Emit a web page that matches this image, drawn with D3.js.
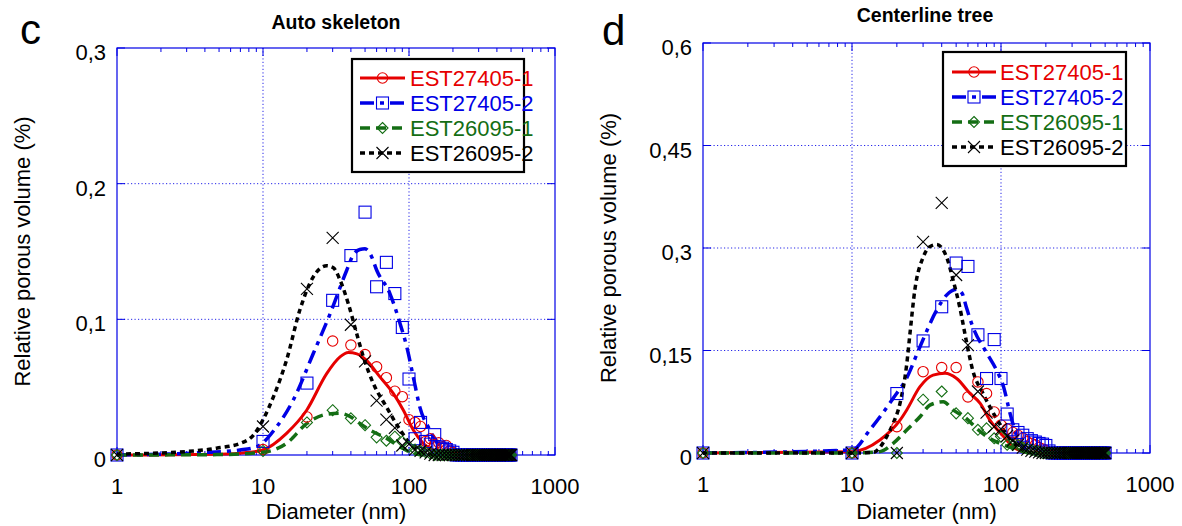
<!DOCTYPE html>
<html><head><meta charset="utf-8">
<script src="https://cdn.jsdelivr.net/npm/d3@7"></script>
<style>body{margin:0;background:#fff}svg{display:block}text{font-family:"Liberation Sans",Arial,sans-serif}</style>
</head><body><svg id="chart" width="1182" height="526"></svg>
<script>
// ---------- DATA ----------
const diameters = [1,10,20,30,40,50,60,70,80,90,
  100,110,120,130,140,150,160,170,180,190,
  200,210,220,230,240,250,260,270,280,290,
  300,310,320,330,340,350,360,370,380,390,
  400,410,420,430,440,450,460,470,480,490,500];
const seriesNames = ["EST27405-1","EST27405-2","EST26095-1","EST26095-2"];
const xTickLabels = ["1","10","100","1000"];
const yTicksC = [0,0.1,0.2,0.3];
const yTickLabelsC = ["0","0,1","0,2","0,3"];
const yTicksD = [0,0.15,0.3,0.45,0.6];
const yTickLabelsD = ["0","0,15","0,3","0,45","0,6"];
const panelTitles = ["Auto skeleton","Centerline tree"];
const panelLetters = ["c","d"];

// Panel c (Auto skeleton) measured points
const cEST27405_1 = [0,0.004,0.028,0.084,0.081,0.074,0.065,0.057,0.047,0.043,
  0.026,0.024,0.021,0.010,0.012,0.008,0.009,0.006,0.007,0.003,
  0.002,0,0,0,0,0,0,0,0,0, 0,0,0,0,0,0,0,0,0,0, 0,0,0,0,0,0,0,0,0,0,0];
const cEST27405_2 = [0,0.010,0.053,0.114,0.147,0.179,0.124,0.142,0.119,0.094,
  0.056,0.012,0.024,0.010,0.008,0.015,0.006,0.005,0.004,0.003,
  0.002,0,0,0,0,0,0,0,0,0, 0,0,0,0,0,0,0,0,0,0, 0,0,0,0,0,0,0,0,0,0,0];
const cEST26095_1 = [0,0.003,0.024,0.033,0.027,0.022,0.013,0.0105,0.0135,0.0098,
  0.006,0.004,0.003,0.002,0.001,0,0,0,0,0,
  0,0,0,0,0,0,0,0,0,0, 0,0,0,0,0,0,0,0,0,0, 0,0,0,0,0,0,0,0,0,0,0];
const cEST26095_2 = [0,0.021,0.1225,0.160,0.096,0.069,0.040,0.026,0.020,0.007,
  0.008,0.004,0.003,0.002,0.001,0,0,0,0,0,
  0,0,0,0,0,0,0,0,0,0, 0,0,0,0,0,0,0,0,0,0, 0,0,0,0,0,0,0,0,0,0,0];
// Panel d (Centerline tree) measured points
const dEST27405_1 = [0,0,0.0385,0.119,0.125,0.125,0.082,0.104,0.087,0.060,
  0.041,0.035,0.030,0.026,0.022,0.0165,0.014,0.012,0.008,0.006,
  0.004,0,0,0,0,0,0,0,0,0, 0,0,0,0,0,0,0,0,0,0, 0,0,0,0,0,0,0,0,0,0,0];
const dEST27405_2 = [0,0,0.087,0.164,0.214,0.278,0.273,0.173,0.109,0.166,
  0.109,0.057,0.034,0.030,0.026,0.021,0.018,0.016,0.014,0.013,
  0.011,0.003,0,0,0,0,0,0,0,0, 0,0,0,0,0,0,0,0,0,0, 0,0,0,0,0,0,0,0,0,0,0];
const dEST26095_1 = [0,0,0,0.078,0.090,0.058,0.051,0.034,0.036,0.0215,
  0.024,0.012,0.012,0.012,0.008,0.006,0.004,0.003,0.002,0,
  0,0,0,0,0,0,0,0,0,0, 0,0,0,0,0,0,0,0,0,0, 0,0,0,0,0,0,0,0,0,0,0];
const dEST26095_2 = [0,0,0,0.309,0.366,0.2605,0.158,0.090,0.059,0.0385,
  0.035,0.025,0.018,0.012,0.008,0.005,0.003,0.002,0.001,0,
  0,0,0,0,0,0,0,0,0,0, 0,0,0,0,0,0,0,0,0,0, 0,0,0,0,0,0,0,0,0,0,0];

// Fitted curves [diameter, value]
const cFit27405_1 = [[1,0],[5,0.0005],[8,0.002],[10,0.0037],[14.5,0.016],[19.9,0.033],[27.3,0.060],[33.7,0.0723],[38.4,0.0755],[44,0.0745],[51,0.0699],[63.2,0.0576],[78,0.0454],[91.5,0.033],[107,0.0184],[125,0.0086],[154,0.0025],[200,0],[500,0]];
const cFit27405_2 = [[1,0],[3.7,0.0017],[6.95,0.0037],[9.06,0.0061],[12.4,0.0208],[16.1,0.0404],[22.1,0.0748],[28.8,0.104],[37.4,0.136],[41.5,0.1475],[46,0.1515],[50,0.152],[55,0.147],[60.2,0.136],[74,0.119],[86.8,0.097],[96.6,0.0796],[107,0.0576],[118.5,0.0355],[139,0.0184],[154,0.0098],[180,0.002],[220,0],[500,0]];
const cFit26095_1 = [[1,0],[5,0.0003],[10,0.002],[14.5,0.0086],[20,0.0233],[27.3,0.030],[33.7,0.0307],[40,0.028],[46,0.0233],[54,0.0184],[70,0.0123],[87,0.006],[107,0.0012],[130,0],[500,0]];
const cFit26095_2 = [[1,0.0007],[2.2,0.0017],[4.8,0.005],[7,0.0086],[8.6,0.0147],[10,0.026],[11.8,0.043],[14.5,0.07],[17.9,0.107],[22,0.131],[27.3,0.1395],[30.3,0.138],[33.7,0.129],[38.4,0.1115],[43.8,0.0895],[48.7,0.0723],[57,0.0527],[70,0.0355],[87,0.0184],[107,0.006],[130,0.001],[160,0],[500,0]];
const dFit27405_1 = [[1,0],[10,0.002],[15.4,0.019],[21,0.048],[23.3,0.063],[28.6,0.097],[35,0.114],[42.1,0.1166],[50.4,0.109],[62,0.087],[72.5,0.0727],[84.2,0.048],[104,0.024],[121,0.009],[150,0.001],[200,0],[500,0]];
const dFit27405_2 = [[1,0],[10,0.0044],[13.2,0.034],[18.9,0.080],[23.3,0.110],[28.6,0.1556],[37,0.209],[43.1,0.231],[50.4,0.2396],[55,0.233],[58.4,0.214],[64.6,0.185],[80.4,0.146],[93.4,0.121],[104,0.097],[115,0.058],[128,0.024],[145,0.006],[170,0],[500,0]];
const dFit26095_1 = [[1,0],[10,0],[15.4,0.002],[18.9,0.014],[23.3,0.0337],[28.6,0.053],[33.3,0.070],[41,0.075],[47.7,0.063],[58.4,0.0508],[68.6,0.036],[80.4,0.024],[98.3,0.014],[121,0.007],[150,0.001],[200,0],[500,0]];
const dFit26095_2 = [[1,0],[10,0],[13.9,0.001],[17.1,0.024],[18.9,0.0435],[21,0.0727],[23.3,0.13],[24.5,0.175],[26.4,0.2385],[30.1,0.287],[33.3,0.302],[37,0.305],[43.1,0.287],[47.7,0.253],[52.8,0.214],[58.4,0.165],[64.6,0.121],[75.8,0.087],[89,0.058],[104,0.034],[121,0.014],[140,0.003],[170,0],[500,0]];

// ---------- STYLE ----------
const colors = ["#e60000","#0000e6","#146e14","#000000"];
const dashes = [null,"14,6,4,6","10,6","5,4"];
const widths = [3,3.5,3.5,3.5];
const markers = ["circle","square","diamond","cross"];
const axisColor = "#0000e6";

const svg = d3.select("#chart");

const panels = [
  {x0:117,x1:555,y0:455,y1:48,ymax:0.3,yt:yTicksC,ytl:yTickLabelsC,
   pts:[cEST27405_1,cEST27405_2,cEST26095_1,cEST26095_2],
   fits:[cFit27405_1,cFit27405_2,cFit26095_1,cFit26095_2],
   title:panelTitles[0],titleX:336,titleY:29,letter:panelLetters[0],letterX:20,letterY:44,
   ylabX:22,leg:{x:352,y:59,w:172,h:113,row0:78,dy:25,lx0:360,lx1:405,tx:410}},
  {x0:703,x1:1150,y0:453,y1:43,ymax:0.6,yt:yTicksD,ytl:yTickLabelsD,
   pts:[dEST27405_1,dEST27405_2,dEST26095_1,dEST26095_2],
   fits:[dFit27405_1,dFit27405_2,dFit26095_1,dFit26095_2],
   title:panelTitles[1],titleX:925,titleY:22,letter:panelLetters[1],letterX:602,letterY:45,
   ylabX:608,leg:{x:943,y:52,w:183,h:114,row0:72,dy:25,lx0:952,lx1:996,tx:1000}}
];

function drawMarker(g, type, cx, cy, color){
  if(type==="circle"){
    g.append("circle").attr("cx",cx).attr("cy",cy).attr("r",5.2)
      .attr("fill","none").attr("stroke",color).attr("stroke-width",1.1);
  } else if(type==="square"){
    g.append("rect").attr("x",cx-6).attr("y",cy-6).attr("width",12).attr("height",12)
      .attr("fill","none").attr("stroke",color).attr("stroke-width",1.1);
  } else if(type==="diamond"){
    g.append("path").attr("d",`M${cx},${cy-5.5}L${cx+5.5},${cy}L${cx},${cy+5.5}L${cx-5.5},${cy}Z`)
      .attr("fill","none").attr("stroke",color).attr("stroke-width",1.1);
  } else {
    g.append("path").attr("d",`M${cx-6},${cy-6}L${cx+6},${cy+6}M${cx-6},${cy+6}L${cx+6},${cy-6}`)
      .attr("fill","none").attr("stroke",color).attr("stroke-width",1.1);
  }
}

panels.forEach(p=>{
  const x = d3.scaleLog().domain([1,1000]).range([p.x0,p.x1]);
  const y = d3.scaleLinear().domain([0,p.ymax]).range([p.y0,p.y1]);
  const g = svg.append("g");

  // grid
  [10,100].forEach(v=>{
    g.append("line").attr("x1",x(v)).attr("x2",x(v)).attr("y1",p.y0).attr("y2",p.y1)
      .attr("stroke",axisColor).attr("stroke-width",1).attr("stroke-dasharray","1.2,2.3").attr("opacity",0.85);
  });
  p.yt.slice(1,-1).forEach(v=>{
    g.append("line").attr("x1",p.x0).attr("x2",p.x1).attr("y1",y(v)).attr("y2",y(v))
      .attr("stroke",axisColor).attr("stroke-width",1).attr("stroke-dasharray","1.2,2.3").attr("opacity",0.85);
  });

  // frame
  g.append("rect").attr("x",p.x0).attr("y",p.y1).attr("width",p.x1-p.x0).attr("height",p.y0-p.y1)
    .attr("fill","none").attr("stroke",axisColor).attr("stroke-width",1.2);

  // x ticks (log, inward on bottom and top)
  const xticks = [];
  [1,10,100].forEach(dec=>{ for(let k=1;k<10;k++) xticks.push(dec*k); });
  xticks.push(1000);
  xticks.forEach(v=>{
    const major = [1,10,100,1000].includes(v);
    const len = major?8:4;
    g.append("line").attr("x1",x(v)).attr("x2",x(v)).attr("y1",p.y0).attr("y2",p.y0-len).attr("stroke",axisColor);
    g.append("line").attr("x1",x(v)).attr("x2",x(v)).attr("y1",p.y1).attr("y2",p.y1+len).attr("stroke",axisColor);
  });
  // y ticks
  p.yt.forEach(v=>{
    g.append("line").attr("x1",p.x0).attr("x2",p.x0+8).attr("y1",y(v)).attr("y2",y(v)).attr("stroke",axisColor);
    g.append("line").attr("x1",p.x1).attr("x2",p.x1-8).attr("y1",y(v)).attr("y2",y(v)).attr("stroke",axisColor);
  });

  // x tick labels
  [1,10,100,1000].forEach((v,i)=>{
    g.append("text").attr("x",x(v)).attr("y",p.y0+39).attr("text-anchor","middle")
      .attr("font-size",22).text(xTickLabels[i]);
  });
  // y tick labels
  p.yt.forEach((v,i)=>{
    g.append("text").attr("x",p.x0-11).attr("y",y(v)+12).attr("text-anchor","end")
      .attr("font-size",22).text(p.ytl[i]);
  });
  // axis titles
  g.append("text").attr("x",(p.x0+p.x1)/2).attr("y",519).attr("text-anchor","middle")
    .attr("font-size",22).text("Diameter (nm)");
  g.append("text").attr("transform",`translate(${p.ylabX},${(p.y0+p.y1)/2}) rotate(-90)`)
    .attr("text-anchor","middle").attr("dy","0.35em").attr("font-size",22).text("Relative porous volume (%)");
  // title
  g.append("text").attr("x",p.titleX).attr("y",p.titleY).attr("text-anchor","middle")
    .attr("font-size",19.5).attr("font-weight","bold").text(p.title);
  g.append("text").attr("x",p.letterX).attr("y",p.letterY).attr("font-size",42).text(p.letter);

  // fits
  const line = d3.line().x(d=>x(d[0])).y(d=>y(d[1])).curve(d3.curveMonotoneX);
  p.fits.forEach((f,i)=>{
    g.append("path").attr("d",line(f)).attr("fill","none").attr("stroke",colors[i])
      .attr("stroke-width",widths[i]).attr("stroke-dasharray",dashes[i]);
  });
  // markers
  p.pts.forEach((vals,i)=>{
    const mg = g.append("g");
    vals.forEach((v,k)=>drawMarker(mg,markers[i],x(diameters[k]),y(v),colors[i]));
  });

  // legend
  const L = p.leg;
  const lg = g.append("g");
  lg.append("rect").attr("x",L.x).attr("y",L.y).attr("width",L.w).attr("height",L.h)
    .attr("fill","#fff").attr("stroke","#000").attr("stroke-width",2.2);
  seriesNames.forEach((n,i)=>{
    const ry = L.row0 + i*L.dy;
    lg.append("line").attr("x1",L.lx0).attr("x2",L.lx1).attr("y1",ry).attr("y2",ry)
      .attr("stroke",colors[i]).attr("stroke-width",widths[i]).attr("stroke-dasharray",dashes[i]);
    drawMarker(lg,markers[i],(L.lx0+L.lx1)/2,ry,colors[i]);
    lg.append("text").attr("x",L.tx).attr("y",ry+8).attr("font-size",22).attr("fill",colors[i]).text(n);
  });
});
</script></body></html>
